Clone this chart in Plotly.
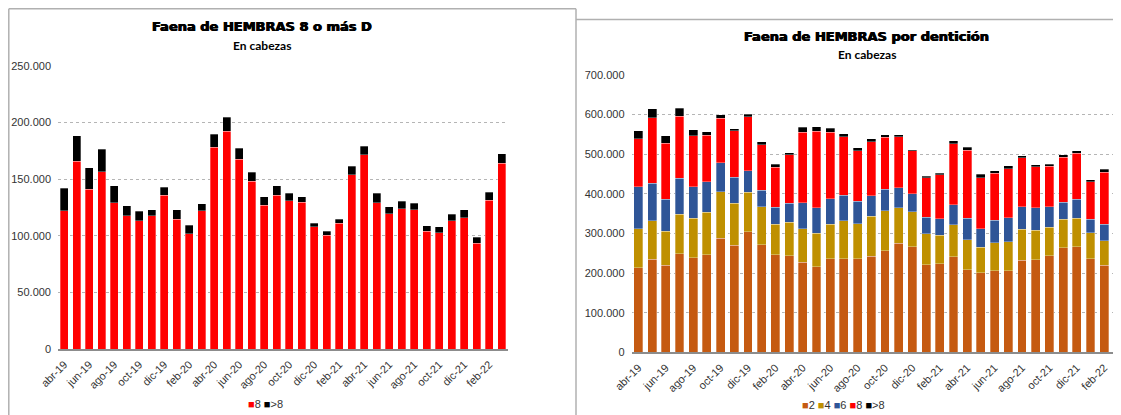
import plotly.graph_objects as go

# months (abr-19 .. mar-22)
months = ["abr-19", "may-19", "jun-19", "jul-19", "ago-19", "sep-19", "oct-19", "nov-19",
          "dic-19", "ene-20", "feb-20", "mar-20", "abr-20", "may-20", "jun-20", "jul-20",
          "ago-20", "sep-20", "oct-20", "nov-20", "dic-20", "ene-21", "feb-21", "mar-21",
          "abr-21", "may-21", "jun-21", "jul-21", "ago-21", "sep-21", "oct-21", "nov-21",
          "dic-21", "ene-22", "feb-22", "mar-22"]

# cabezas por dentición
d2 = [213700, 234700, 219600, 249000, 238900, 246500, 287700, 270100, 304600, 271700,
      246500, 244000, 227200, 216200, 236400, 236400, 236000, 242300, 256600, 275100,
      266700, 221300, 223800, 240600, 208600, 200200, 205300, 205300, 232200, 233900,
      244000, 264200, 266700, 236400, 219600, 238900]
d4 = [97600, 96800, 86600, 99300, 99300, 106800, 117000, 106000, 99200, 95100,
      76600, 84900, 84100, 84100, 86700, 95100, 89000, 101000, 101000, 90000,
      88300, 78200, 72300, 80800, 75800, 65600, 71500, 74000, 78200, 74800,
      72300, 71500, 72300, 64800, 61400, 61400]
d6 = [106000, 95000, 80000, 91700, 79100, 77400, 73200, 65600, 54700, 42100,
      42900, 47200, 66400, 64800, 64700, 64700, 56900, 52100, 53800, 49700,
      45500, 41200, 41300, 51300, 54600, 46300, 56300, 60600, 57200, 56400,
      50500, 43700, 47200, 35300, 42100, 39600]
d8 = [122200, 165800, 141000, 156400, 129300, 117800, 113400, 117500, 136000, 114800,
      101600, 122200, 178400, 192300, 167800, 148100, 127200, 136000, 131000, 129600,
      107800, 100400, 111000, 154000, 171400, 129000, 119300, 123700, 123100, 103900,
      102500, 113400, 116000, 93600, 131600, 164300]
dmas8 = [20000, 22400, 18900, 20000, 15000, 8800, 8200, 5300, 6800, 8000,
         7600, 5900, 11500, 12300, 9500, 8000, 7100, 8300, 6500, 4700,
         3500, 3800, 3800, 7400, 7600, 8500, 6400, 7000, 5600, 4800,
         5300, 5600, 6800, 5300, 6800, 8000]

# the page body has an 8px margin, so the figure is drawn 8px smaller
OFF = 8
W, H = 1121 - OFF, 415 - OFF
def px(x):
    return (x - OFF) / W
def py(y):
    return (415 - y) / H

tick_font = dict(family="Liberation Sans, Arial", size=11, color="#333333")
line = dict(color="rgba(255,255,255,0.6)", width=0.5)

fig = go.Figure()

# left chart: 8 o más D
left = [("8", d8, "#FF0000"), (">8", dmas8, "#000000")]
for name, vals, col in left:
    fig.add_trace(go.Bar(x=months, y=vals, name=name, marker=dict(color=col, line=line),
                         xaxis="x", yaxis="y"))

# right chart: por dentición
right = [("2", d2, "#C55A11"), ("4", d4, "#BF9000"), ("6", d6, "#2F5597"),
         ("8", d8, "#FF0000"), (">8", dmas8, "#000000")]
for name, vals, col in right:
    fig.add_trace(go.Bar(x=months, y=vals, name=name, marker=dict(color=col, line=line),
                         xaxis="x2", yaxis="y2"))

xcommon = dict(type="category", tickmode="array", tickvals=months[::2], ticktext=months[::2],
               tickangle=-45, tickfont=tick_font, showline=True, linecolor="#8c8c8c",
               linewidth=1.5, ticks="", showgrid=False, automargin=False, ticklabelstandoff=3)
ycommon = dict(tickformat=",d", tickfont=tick_font, showgrid=True, gridcolor="#b5b5b5",
               griddash="dot", gridwidth=1, zeroline=False, showline=False, ticks="",
               automargin=False, ticklabelstandoff=6)

fig.update_layout(
    width=W, height=H,
    margin=dict(l=0, r=0, t=0, b=0, autoexpand=False),
    paper_bgcolor="white", plot_bgcolor="white",
    separators=",.",
    barmode="stack",
    bargap=0.35,
    showlegend=False,
    xaxis=dict(xcommon, domain=[px(58), px(508)], anchor="y", range=[-0.5, 35.5]),
    yaxis=dict(ycommon, domain=[py(349), py(66)], anchor="x", range=[0, 250000], dtick=50000),
    xaxis2=dict(xcommon, domain=[px(631.5), 1.0], anchor="y2", range=[-0.5, 35.23]),
    yaxis2=dict(ycommon, domain=[py(352.3), py(75)], anchor="x2", range=[0, 700000], dtick=100000),
)

title_font = dict(family="DejaVu Sans", size=13, color="black", weight="bold",
                  shadow="0.5px 0 0 #000, -0.5px 0 0 #000")
sub_font = dict(family="Lato, Calibri", size=12, color="black", weight="bold")
ann = [
    (262, 26.5, "Faena de HEMBRAS 8 o más D", title_font),
    (262, 45, "En cabezas", sub_font),
    (866.7, 36, "Faena de HEMBRAS por dentición", title_font),
    (866.7, 54, "En cabezas", sub_font),
]
for x, y, t, f in ann:
    fig.add_annotation(x=px(x), y=py(y), xref="paper", yref="paper", text=t, showarrow=False,
                       font=f, xanchor="center", yanchor="middle")

# legends drawn as text
def legend_text(items):
    return " ".join(f"<span style='color:{c}'>■</span>{n}" for n, _, c in items)

fig.add_annotation(x=px(265), y=py(404), xref="paper", yref="paper", text=legend_text(left),
                   showarrow=False, font=tick_font, xanchor="center", yanchor="middle")
fig.add_annotation(x=px(843), y=py(405), xref="paper", yref="paper", text=legend_text(right),
                   showarrow=False, font=tick_font, xanchor="center", yanchor="middle")

# panel frames
border = dict(color="#b0b0b0", width=1.5)
fig.add_shape(type="line", xref="paper", yref="paper", x0=px(8.8), x1=px(576), y0=py(8.8), y1=py(8.8), line=border)
fig.add_shape(type="line", xref="paper", yref="paper", x0=px(8.8), x1=px(8.8), y0=py(8.8), y1=0, line=border)
fig.add_shape(type="line", xref="paper", yref="paper", x0=px(576), x1=px(576), y0=py(8.8), y1=0, line=border)
fig.add_shape(type="line", xref="paper", yref="paper", x0=px(576), x1=1, y0=py(19.5), y1=py(19.5), line=border)

fig.write_html("out.html")
